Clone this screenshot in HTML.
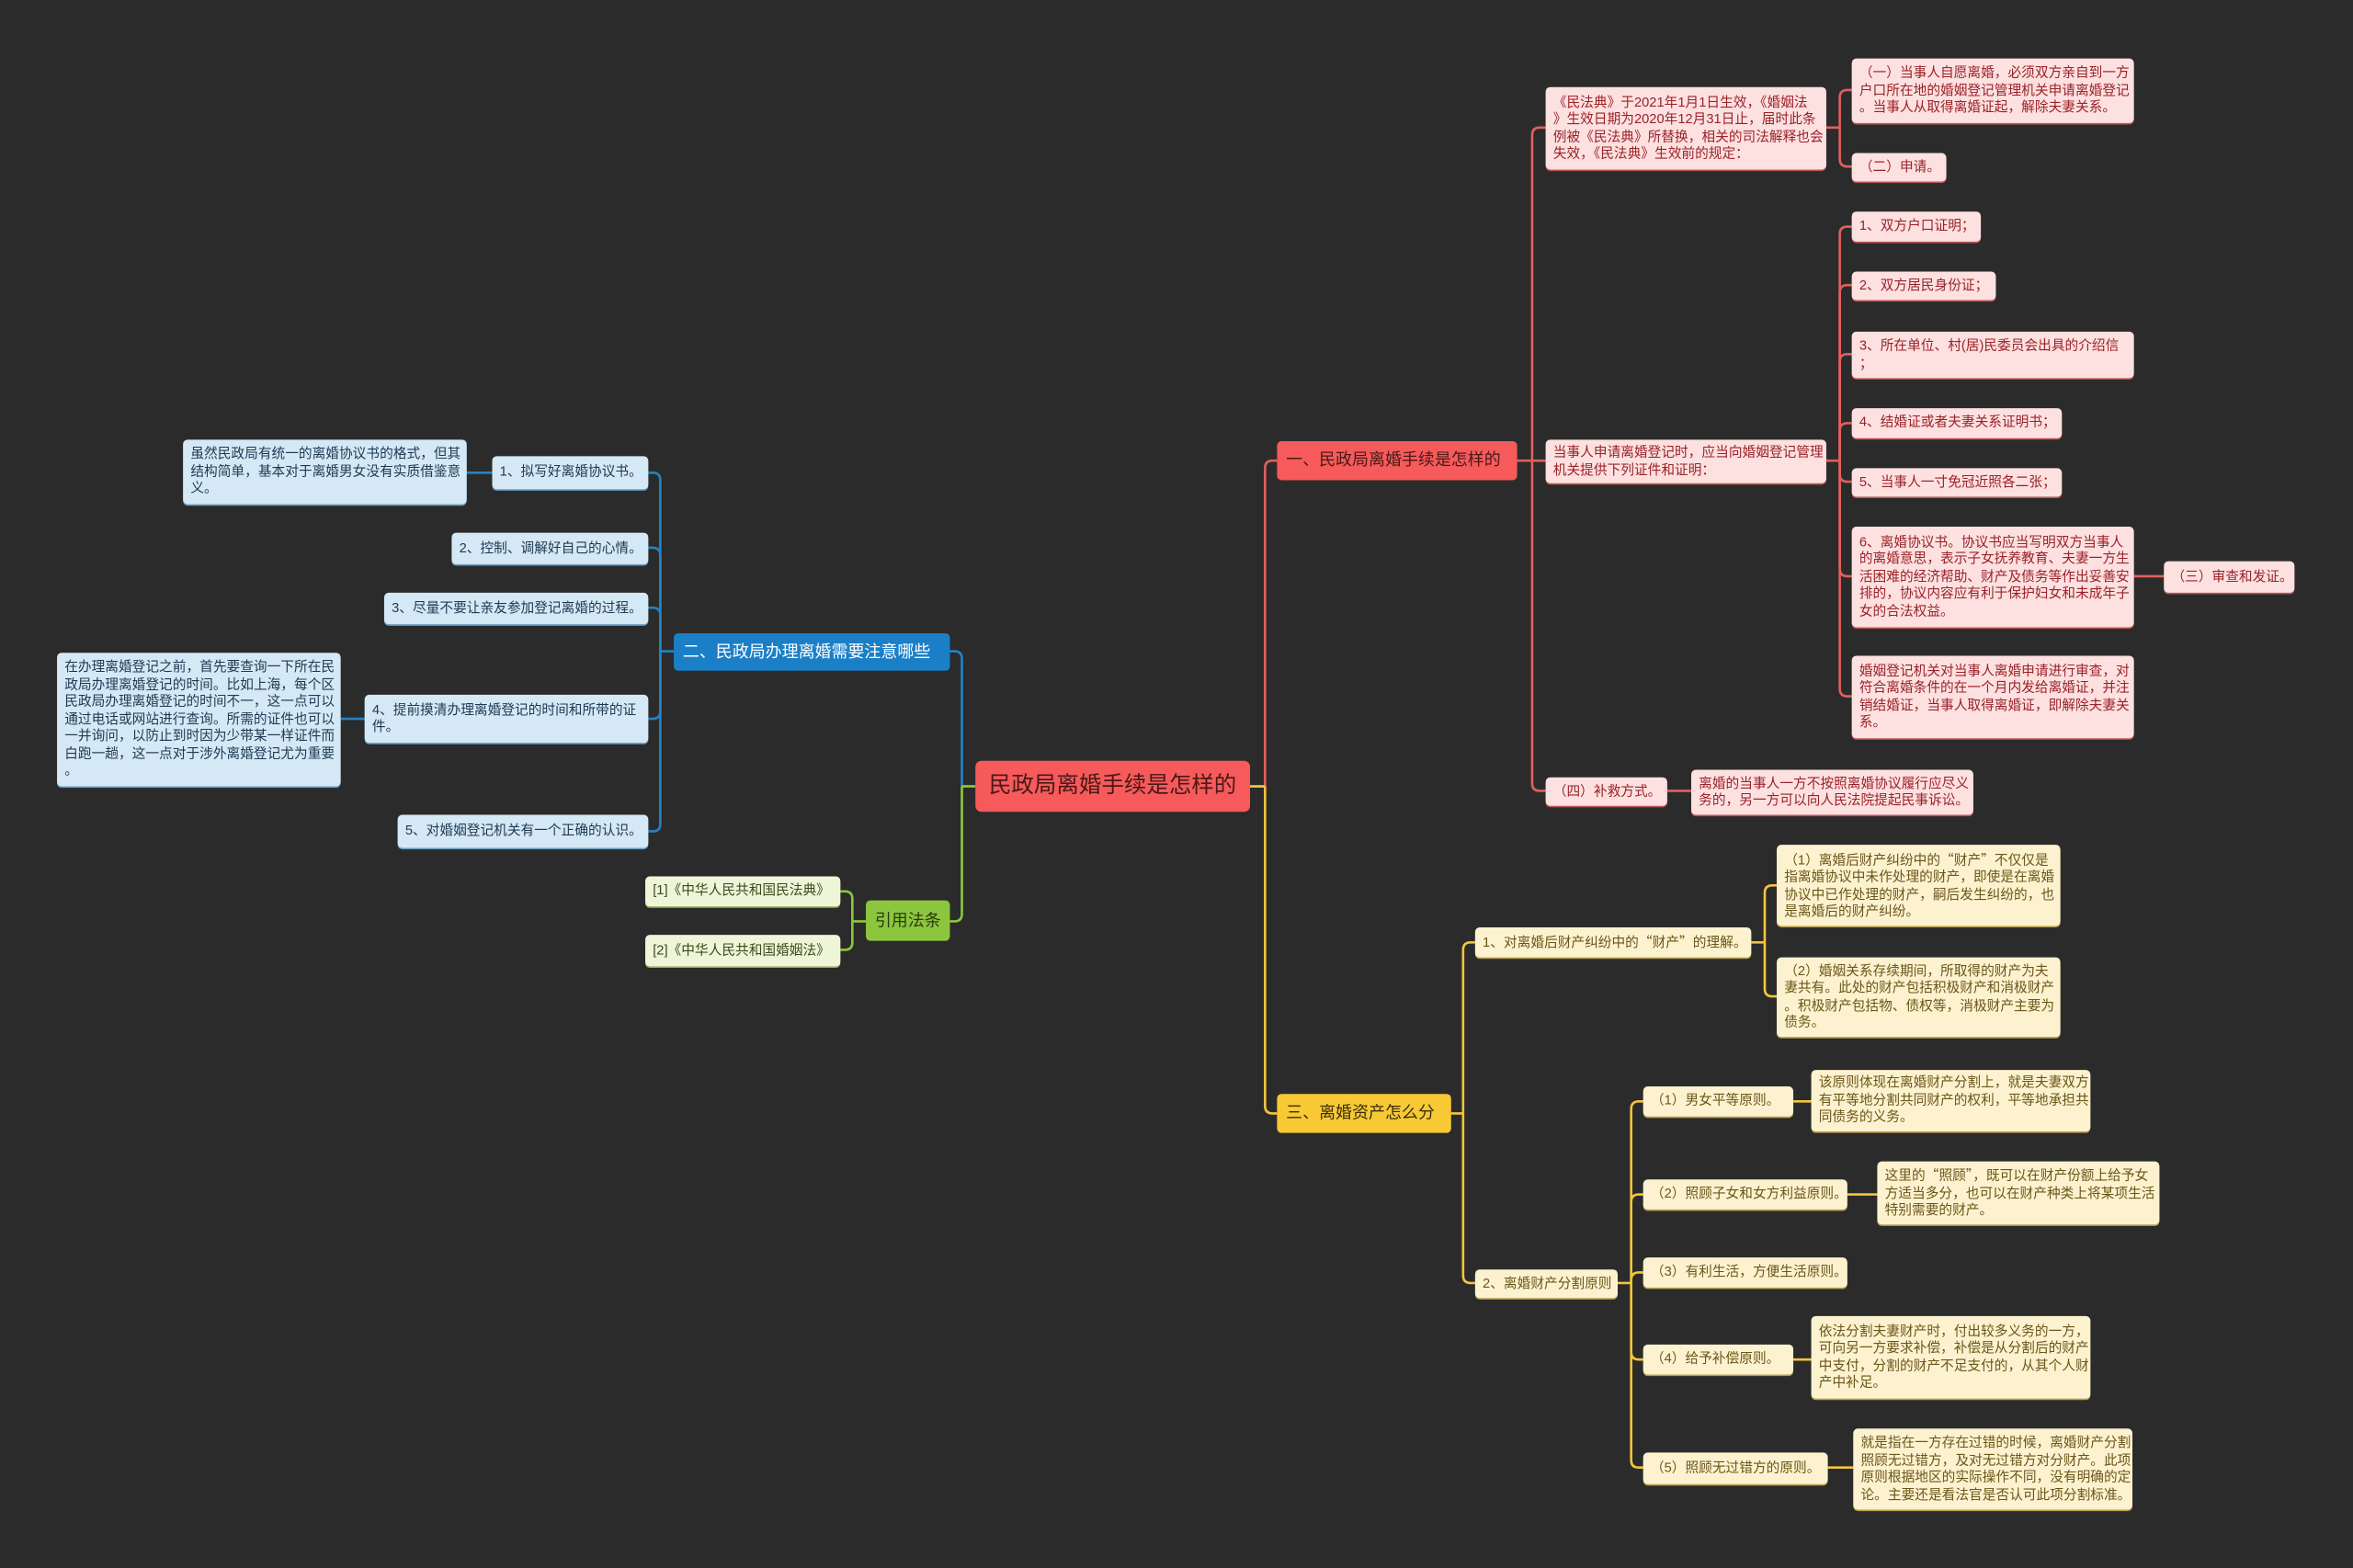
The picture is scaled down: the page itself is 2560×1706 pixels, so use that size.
<!DOCTYPE html>
<html><head><meta charset="utf-8">
<style>
html,body{margin:0;padding:0;background:#2b2b2b;width:2560px;height:1706px;overflow:hidden}
#c{position:absolute;left:0;top:0;width:1568px;height:1045px;transform:scale(1.632653);transform-origin:0 0;background:#2b2b2b;font-family:"Liberation Sans","Noto Sans CJK SC",sans-serif}
.n{position:absolute;box-sizing:border-box;border-radius:3px;white-space:nowrap;font-size:9px;line-height:11.5px;padding:3px 5px;display:flex;flex-direction:column;justify-content:center}
.r{background:#fde0e0;color:#9a2228;box-shadow:0 1px 0 #b55}
.y{background:#fcf2cf;color:#6b561a;box-shadow:0 1px 0 #b9a050}
.b{background:#d5e8f5;color:#1d3a52;box-shadow:0 1px 0 #6a9cc0}
.g{background:#eef5d9;color:#3c4a1a;box-shadow:0 1px 0 #9bb060}
.big{font-size:11px;line-height:14px;padding:0 6px;justify-content:center}
.q{font-family:"Noto Sans CJK SC",sans-serif}
svg{position:absolute;left:0;top:0}
</style></head><body><div id="c">
<svg id="s" width="1568" height="1045"></svg>

<div class="n big" style="left:650px;top:507px;width:183px;height:34px;background:#f65a5a;color:#4a1818;font-size:15px;border-radius:4px;align-items:center">民政局离婚手续是怎样的</div>
<div class="n big" style="left:851px;top:294px;width:160px;height:26px;background:#f65a5a;color:#4a1818">一、民政局离婚手续是怎样的</div>
<div class="n big" style="left:851px;top:729px;width:116px;height:26px;background:#f8c935;color:#3a2e0a">三、离婚资产怎么分</div>
<div class="n big" style="left:449px;top:422px;width:184px;height:25px;background:#1b7fc8;color:#fff">二、民政局办理离婚需要注意哪些</div>
<div class="n big" style="left:577px;top:600px;width:56px;height:27px;background:#8cc63f;color:#2a3a0a;align-items:center">引用法条</div>

<div class="n r" style="left:1030px;top:58px;width:187px;height:55px">《民法典》于2021年1月1日生效，《婚姻法<br>》生效日期为2020年12月31日止，届时此条<br>例被《民法典》所替换，相关的司法解释也会<br>失效，《民法典》生效前的规定：</div>
<div class="n r" style="left:1030px;top:293px;width:187px;height:29px">当事人申请离婚登记时，应当向婚姻登记管理<br>机关提供下列证件和证明：</div>
<div class="n r" style="left:1030px;top:518px;width:81px;height:19px">（四）补救方式。</div>
<div class="n r" style="left:1234px;top:39px;width:188px;height:43px">（一）当事人自愿离婚，必须双方亲自到一方<br>户口所在地的婚姻登记管理机关申请离婚登记<br>。当事人从取得离婚证起，解除夫妻关系。</div>
<div class="n r" style="left:1234px;top:102px;width:63px;height:19px">（二）申请。</div>
<div class="n r" style="left:1234px;top:141px;width:86px;height:20px">1、双方户口证明；</div>
<div class="n r" style="left:1234px;top:181px;width:96px;height:19px">2、双方居民身份证；</div>
<div class="n r" style="left:1234px;top:221px;width:188px;height:31px">3、所在单位、村(居)民委员会出具的介绍信<br>；</div>
<div class="n r" style="left:1234px;top:272px;width:140px;height:20px">4、结婚证或者夫妻关系证明书；</div>
<div class="n r" style="left:1234px;top:312px;width:140px;height:19px">5、当事人一寸免冠近照各二张；</div>
<div class="n r" style="left:1234px;top:351px;width:188px;height:67px">6、离婚协议书。协议书应当写明双方当事人<br>的离婚意思，表示子女抚养教育、夫妻一方生<br>活困难的经济帮助、财产及债务等作出妥善安<br>排的，协议内容应有利于保护妇女和未成年子<br>女的合法权益。</div>
<div class="n r" style="left:1234px;top:437px;width:188px;height:55px">婚姻登记机关对当事人离婚申请进行审查，对<br>符合离婚条件的在一个月内发给离婚证，并注<br>销结婚证，当事人取得离婚证，即解除夫妻关<br>系。</div>
<div class="n r" style="left:1442px;top:374px;width:87px;height:21px">（三）审查和发证。</div>
<div class="n r" style="left:1127px;top:513px;width:188px;height:30px">离婚的当事人一方不按照离婚协议履行应尽义<br>务的，另一方可以向人民法院提起民事诉讼。</div>

<div class="n y" style="left:983px;top:618px;width:184px;height:20px"><span>1、对离婚后财产纠纷中的<span class="q">“</span>财产<span class="q">”</span>的理解。</span></div>
<div class="n y" style="left:1184px;top:563px;width:189px;height:54px"><span>（1）离婚后财产纠纷中的<span class="q">“</span>财产<span class="q">”</span>不仅仅是</span>指离婚协议中未作处理的财产，即使是在离婚<br>协议中已作处理的财产，嗣后发生纠纷的，也<br>是离婚后的财产纠纷。</div>
<div class="n y" style="left:1184px;top:638px;width:189px;height:53px">（2）婚姻关系存续期间，所取得的财产为夫<br>妻共有。此处的财产包括积极财产和消极财产<br>。积极财产包括物、债权等，消极财产主要为<br>债务。</div>
<div class="n y" style="left:983px;top:846px;width:95px;height:19px">2、离婚财产分割原则</div>
<div class="n y" style="left:1095px;top:724px;width:100px;height:20px">（1）男女平等原则。</div>
<div class="n y" style="left:1207px;top:713px;width:186px;height:41px">该原则体现在离婚财产分割上，就是夫妻双方<br>有平等地分割共同财产的权利，平等地承担共<br>同债务的义务。</div>
<div class="n y" style="left:1095px;top:786px;width:136px;height:20px">（2）照顾子女和女方利益原则。</div>
<div class="n y" style="left:1251px;top:774px;width:188px;height:42px"><span>这里的<span class="q">“</span>照顾<span class="q">”</span>，既可以在财产份额上给予女</span>方适当多分，也可以在财产种类上将某项生活<br>特别需要的财产。</div>
<div class="n y" style="left:1095px;top:838px;width:136px;height:20px">（3）有利生活，方便生活原则。</div>
<div class="n y" style="left:1095px;top:896px;width:100px;height:20px">（4）给予补偿原则。</div>
<div class="n y" style="left:1207px;top:877px;width:186px;height:55px">依法分割夫妻财产时，付出较多义务的一方，<br>可向另一方要求补偿，补偿是从分割后的财产<br>中支付，分割的财产不足支付的，从其个人财<br>产中补足。</div>
<div class="n y" style="left:1095px;top:968px;width:123px;height:21px">（5）照顾无过错方的原则。</div>
<div class="n y" style="left:1235px;top:952px;width:186px;height:54px">就是指在一方存在过错的时候，离婚财产分割<br>照顾无过错方，及对无过错方对分财产。此项<br>原则根据地区的实际操作不同，没有明确的定<br>论。主要还是看法官是否认可此项分割标准。</div>

<div class="n b" style="left:328px;top:304px;width:104px;height:22px">1、拟写好离婚协议书。</div>
<div class="n b" style="left:122px;top:293px;width:189px;height:43px">虽然民政局有统一的离婚协议书的格式，但其<br>结构简单，基本对于离婚男女没有实质借鉴意<br>义。</div>
<div class="n b" style="left:301px;top:355px;width:131px;height:21px">2、控制、调解好自己的心情。</div>
<div class="n b" style="left:256px;top:395px;width:176px;height:21px">3、尽量不要让亲友参加登记离婚的过程。</div>
<div class="n b" style="left:243px;top:463px;width:189px;height:32px">4、提前摸清办理离婚登记的时间和所带的证<br>件。</div>
<div class="n b" style="left:38px;top:435px;width:189px;height:89px">在办理离婚登记之前，首先要查询一下所在民<br>政局办理离婚登记的时间。比如上海，每个区<br>民政局办理离婚登记的时间不一，这一点可以<br>通过电话或网站进行查询。所需的证件也可以<br>一并询问，以防止到时因为少带某一样证件而<br>白跑一趟，这一点对于涉外离婚登记尤为重要<br>。</div>
<div class="n b" style="left:265px;top:543px;width:167px;height:22px">5、对婚姻登记机关有一个正确的认识。</div>
<div class="n g" style="left:430px;top:584px;width:130px;height:20px">[1]《中华人民共和国民法典》</div>
<div class="n g" style="left:430px;top:623px;width:130px;height:21px">[2]《中华人民共和国婚姻法》</div>
</div>
<script>
var s=document.getElementById('s'),out='';
function br(px,py,tx,kids,col,dir){
  var r=5;
  out+='<path d="M'+px+' '+py+'H'+tx+'" stroke="'+col+'" stroke-width="1.6" fill="none"/>';
  kids.forEach(function(k){
    var cx=k[0],cy=k[1],d;
    if(Math.abs(cy-py)<r){d='M'+tx+' '+py+'V'+cy+'H'+cx;}
    else{var sg=cy>py?1:-1;d='M'+tx+' '+py+'V'+(cy-sg*r)+'Q'+tx+' '+cy+' '+(tx+dir*r)+' '+cy+'H'+cx;}
    out+='<path d="'+d+'" stroke="'+col+'" stroke-width="1.6" fill="none"/>';
  });
}
function ln(x1,y,x2,col){out+='<path d="M'+x1+' '+y+'H'+x2+'" stroke="'+col+'" stroke-width="1.6"/>';}
var R='#e0605f',Y='#f3c53c',B='#2383c4',G='#8cc63f';
br(833,524,843,[[851,307]],R,1);
br(833,524,843,[[851,742]],Y,1);
br(650,524,641,[[633,434]],B,-1);
br(650,524,641,[[633,614]],G,-1);
br(1011,307,1021,[[1030,85],[1030,307],[1030,527]],R,1);
br(1217,85,1226,[[1234,60],[1234,111]],R,1);
br(1217,307,1226,[[1234,151],[1234,190],[1234,236],[1234,282],[1234,321],[1234,384],[1234,464]],R,1);
ln(1422,384,1442,R);ln(1111,527,1127,R);
br(967,742,975,[[983,628],[983,855]],Y,1);
br(1167,628,1176,[[1184,590],[1184,664]],Y,1);
br(1078,855,1087,[[1095,734],[1095,796],[1095,848],[1095,906],[1095,978]],Y,1);
ln(1195,734,1207,Y);ln(1231,796,1251,Y);ln(1195,906,1207,Y);ln(1218,978,1235,Y);
br(449,434,440,[[432,315],[432,365],[432,405],[432,479],[432,554]],B,-1);
ln(328,315,311,B);ln(243,479,227,B);
br(577,614,568,[[560,594],[560,633]],G,-1);
s.innerHTML=out;
</script>
</body></html>
